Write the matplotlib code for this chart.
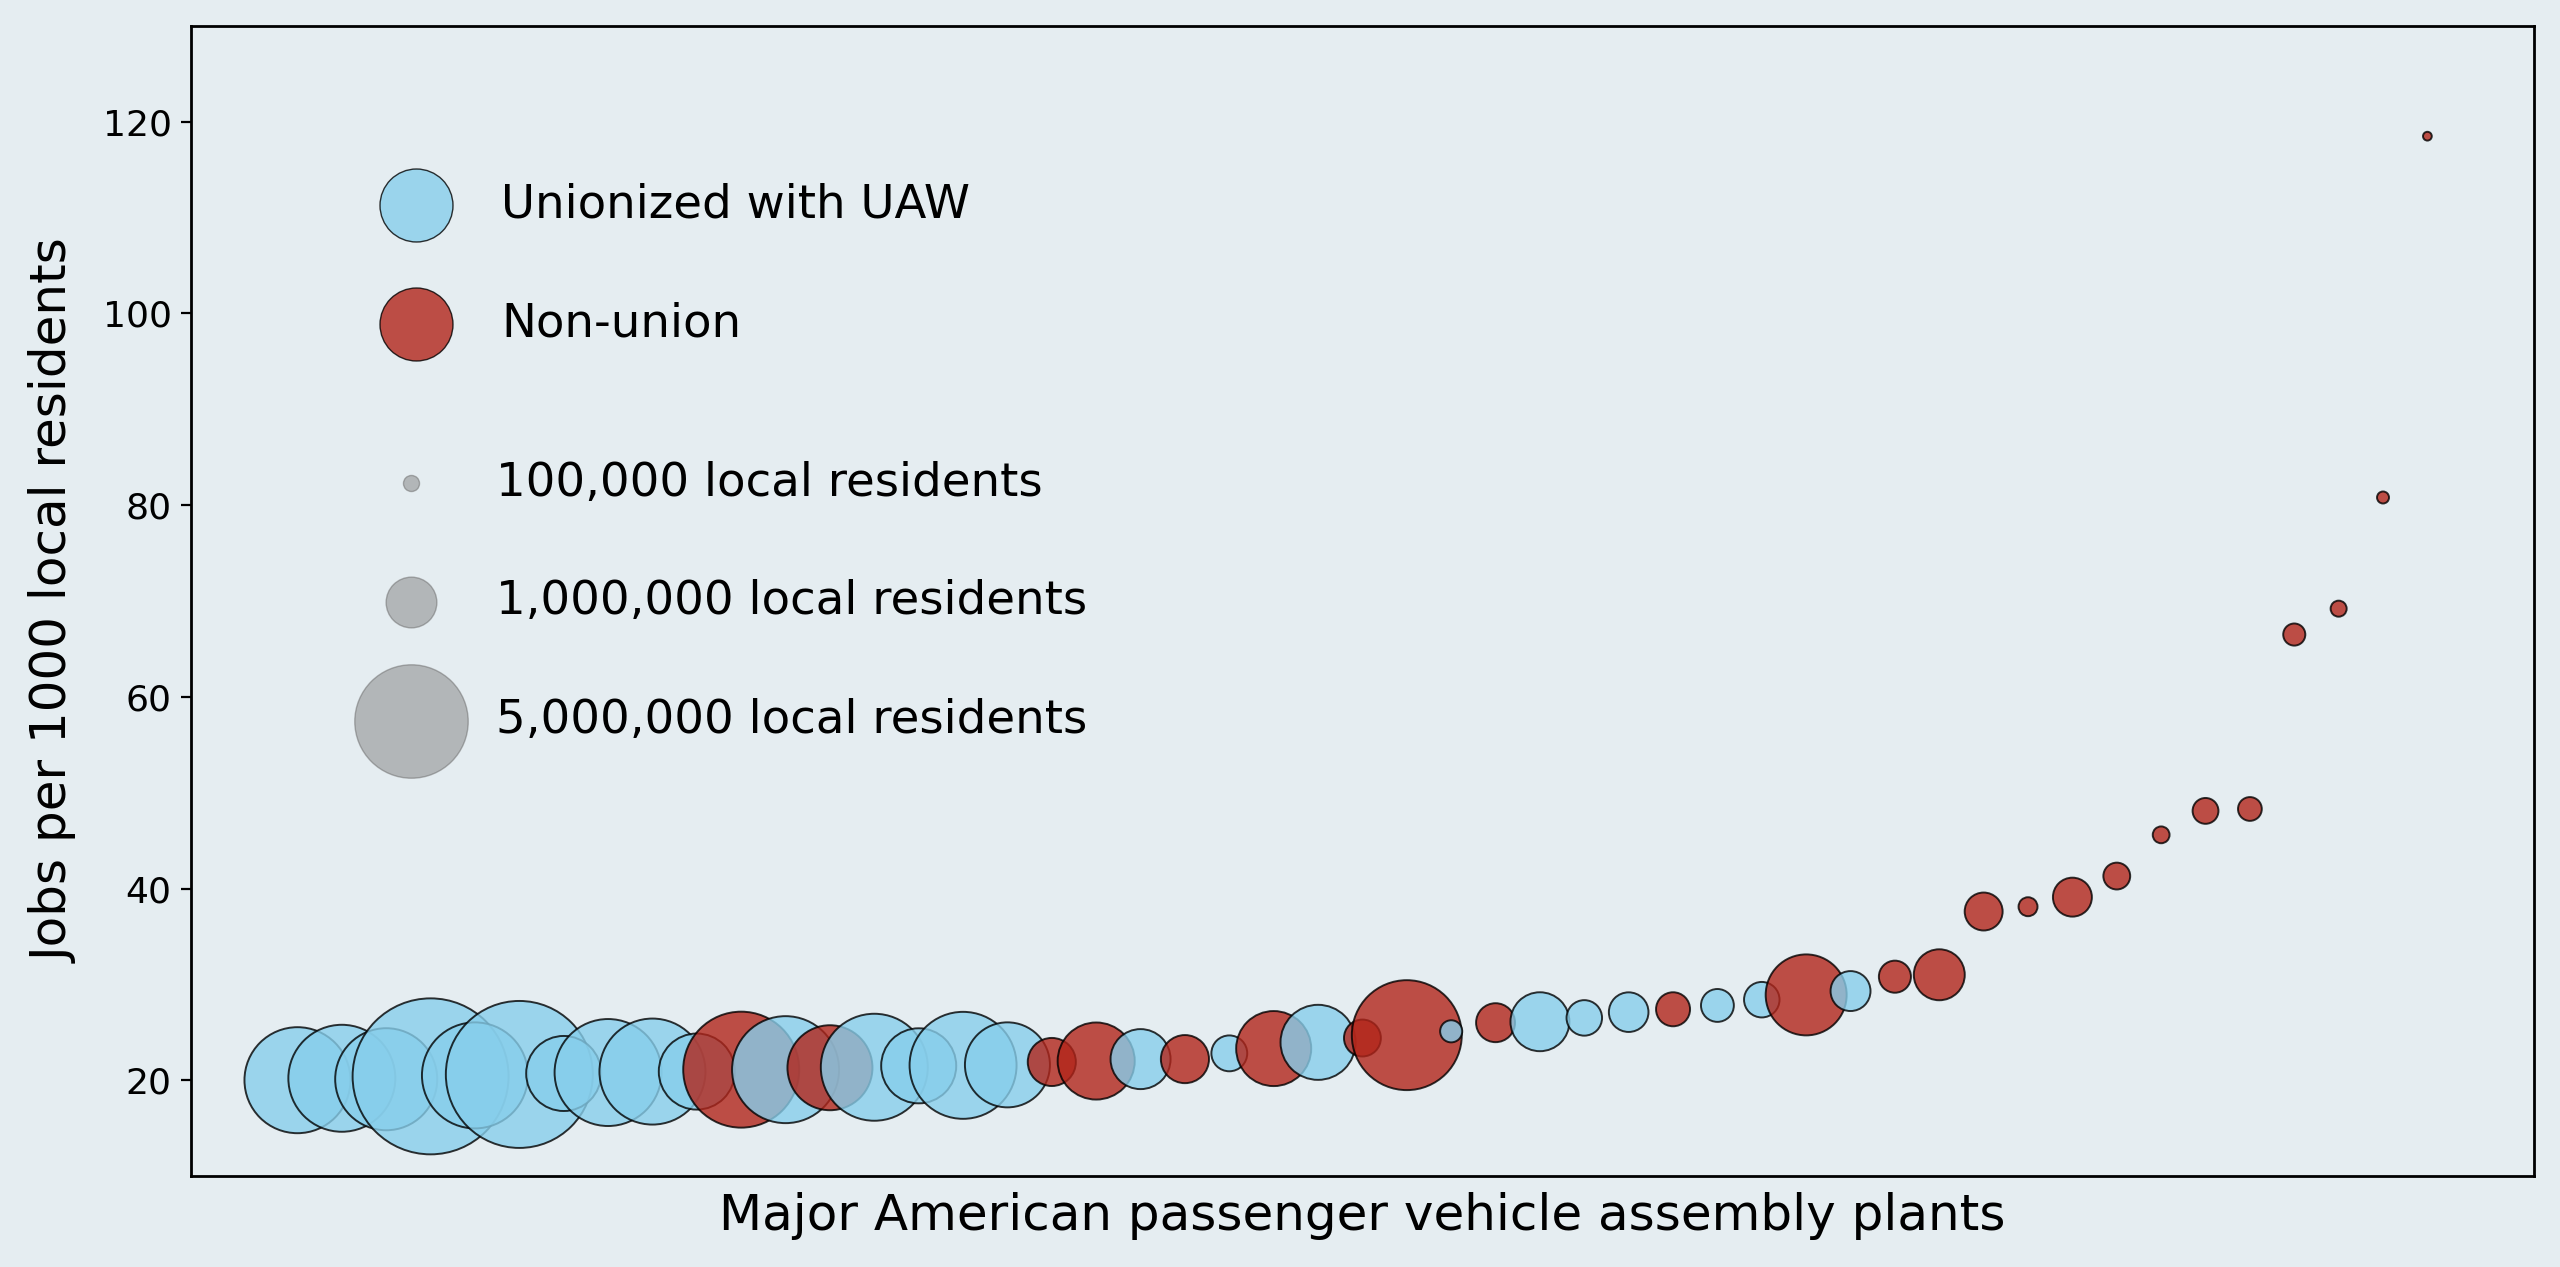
import numpy as np
import matplotlib
matplotlib.use('Agg')
import matplotlib.pyplot as plt

# jobs per 1000 local residents, plants sorted from lowest to highest
jobs_per_1000 = [20.0, 20.2, 20.1, 20.4, 20.5, 20.6, 20.7, 20.8, 20.9, 20.9,
                 21.1, 21.1, 21.3, 21.35, 21.5, 21.55, 21.6, 21.9, 22.0, 22.2,
                 22.2, 22.8, 23.3, 23.95, 24.4, 24.7, 25.1, 26.0, 26.1, 26.5,
                 27.1, 27.4, 27.8, 28.4, 28.9, 29.3, 30.8, 31.0, 37.6, 38.1,
                 39.1, 41.3, 45.6, 48.1, 48.3, 66.5, 69.2, 80.8, 118.5]

# local residents (thousands)
residents_k = [4370, 4450, 4050, 9460, 4370, 8400, 2190, 4450, 4370, 2250,
               5230, 4450, 2810, 4450, 2190, 4450, 2810, 900, 2310, 1400,
               900, 500, 2190, 2190, 530, 4700, 190, 590, 1350, 490,
               610, 450, 420, 490, 2550, 620, 400, 1010, 560, 140,
               590, 280, 110, 260, 220, 190, 100, 56, 30]

# 1 = unionized with UAW, 0 = non-union
union = [1, 1, 1, 1, 1, 1, 1, 1, 1, 1,
         0, 1, 0, 1, 1, 1, 1, 0, 0, 1,
         0, 1, 0, 1, 0, 0, 1, 0, 1, 1,
         1, 0, 1, 1, 0, 1, 0, 0, 0, 0,
         0, 0, 0, 0, 0, 0, 0, 0, 0]

legend_sizes = [100000, 1000000, 5000000]
legend_labels = ['100,000 local residents', '1,000,000 local residents', '5,000,000 local residents']

UNION_COLOR = '#87CEEB'
NONUNION_COLOR = '#b2251a'
BG = '#e5edf1'


def bubble_size(pop):
    return np.asarray(pop) / 3000.0


def main():
    fig = plt.figure(figsize=(12.8, 6.335), dpi=200, facecolor=BG)
    ax = fig.add_axes([0.0746, 0.0718, 0.9152, 0.9077])
    ax.set_facecolor(BG)

    x = np.arange(len(jobs_per_1000))
    colors = [UNION_COLOR if u else NONUNION_COLOR for u in union]
    ax.scatter(x, jobs_per_1000, s=bubble_size(np.array(residents_k) * 1000),
               c=colors, alpha=0.8, edgecolors='black', linewidths=0.7)

    ax.set_xlim(-2.4, len(x) - 1 + 2.4)
    ax.set_ylim(10, 130)
    ax.set_xticks([])
    ax.set_yticks([20, 40, 60, 80, 100, 120])
    ax.tick_params(axis='y', labelsize=13)
    ax.set_xlabel('Major American passenger vehicle assembly plants', fontsize=18, labelpad=5.8)
    ax.set_ylabel('Jobs per 1000 local residents', fontsize=18, labelpad=8.5)
    for sp in ax.spines.values():
        sp.set_linewidth(1.0)

    # colour legend
    h_union = ax.scatter([], [], s=690, color=UNION_COLOR, alpha=0.8,
                         edgecolors='black', linewidths=0.5, label='Unionized with UAW')
    h_non = ax.scatter([], [], s=690, color=NONUNION_COLOR, alpha=0.8,
                       edgecolors='black', linewidths=0.5, label='Non-union')
    leg1 = ax.legend(handles=[h_union, h_non], loc='upper left',
                     bbox_to_anchor=(0.076, 0.864), frameon=False, fontsize=16.8,
                     borderpad=0, borderaxespad=0, labelspacing=1.58,
                     handlelength=2.0, handletextpad=0.83, scatterpoints=1)
    ax.add_artist(leg1)

    # size legend
    size_handles = [ax.scatter([], [], s=bubble_size(p), color='gray', alpha=0.5,
                               edgecolors='dimgray', linewidths=0.5, label=lab)
                    for p, lab in zip(legend_sizes, legend_labels)]
    ax.legend(handles=size_handles, loc='upper left',
              bbox_to_anchor=(0.0739, 0.622), frameon=False, fontsize=16.8,
              borderpad=0, borderaxespad=0, labelspacing=1.58,
              handlelength=2.0, handletextpad=0.83, scatterpoints=1)

    fig.savefig('out.png', dpi=200, facecolor=BG)
    plt.close(fig)


if __name__ == '__main__':
    main()
